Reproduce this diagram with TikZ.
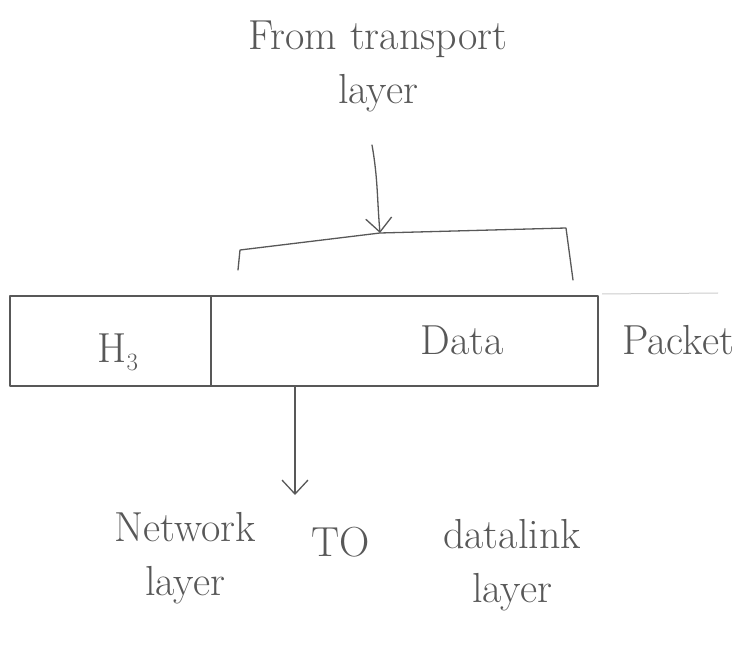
\documentclass[tikz,border=0pt]{standalone}
\usetikzlibrary{arrows.meta}
\definecolor{pencil}{RGB}{88,88,88}
\definecolor{faint}{RGB}{205,205,205}
\begin{document}
\begin{tikzpicture}[x=1pt,y=-1pt,
  ink/.style={draw=pencil,line width=1.3pt,line cap=round,line join=round},
  label/.style={text=pencil,font=\fontsize{42}{54}\selectfont,align=center,inner sep=0pt},
  cell/.style={ink,minimum height=90pt,inner sep=0pt,outer sep=0pt},
  barb/.style={-{Straight Barb[length=14pt,width=26pt,line width=1.3pt]}}]
  \useasboundingbox (0,0) rectangle (734,647);

  % source label and its arrow into the bracket
  \node[label] (src) at (378,66) {From transport\\layer};
  \coordinate (bl) at (238,270);
  \coordinate (bltop) at (240,250);
  \coordinate (bmid) at (380,233);
  \coordinate (brtop) at (566,228);
  \coordinate (br) at (573,280);
  \draw[ink] (bl) -- (bltop) -- (bmid) -- (brtop) -- (br);
  \draw[ink,barb] (372,145) to[out=-80,in=95] (bmid);

  % packet: header cell and data cell
  \node[cell,minimum width=201pt] (hdr) at (110.5,341) {};
  \node[cell,minimum width=387pt] (data) at (404.5,341) {};
  \node[label] (h3) at (118,352) {H$_3$};
  \node[label] (dtxt) at (462,340) {Data};
  \node[label,anchor=west] (pkt) at (622,340) {Packet};
  \draw[faint,line width=1pt] (data.north east) ++(4,-2) -- ++(116,-1);

  % arrow down to the layer labels
  \coordinate (out) at (295,386);
  \coordinate (tip) at (295,495);
  \draw[ink,barb] (out) -- (tip);

  \node[label] (net) at (185,558) {Network\\layer};
  \node[label] (to) at (341,542) {TO};
  \node[label] (dl) at (512,565) {datalink\\layer};
\end{tikzpicture}
\end{document}
